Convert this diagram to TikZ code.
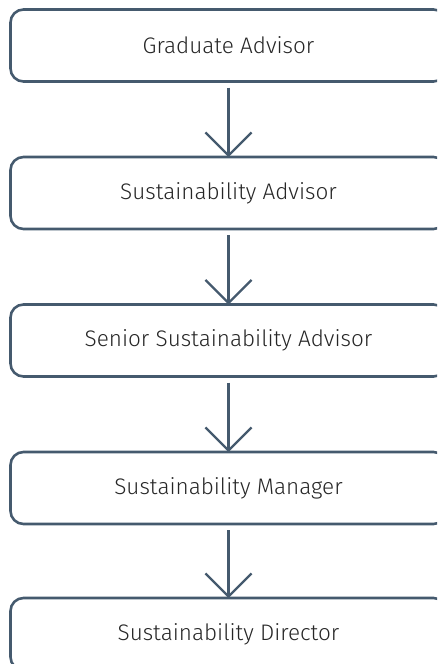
\documentclass[tikz,border=0pt]{standalone}
\usepackage{fontspec}
\setmainfont{Fira Sans}[UprightFont={* Light}]
\usetikzlibrary{arrows.meta}
\definecolor{edge}{HTML}{455A6E}
\definecolor{txt}{HTML}{262626}
\begin{document}
\begin{tikzpicture}[x=1pt,y=1pt,
  stage/.style={draw=edge, line width=2.6pt, rounded corners=13pt, minimum width=436pt,
    minimum height=72pt, inner sep=0pt, outer sep=0pt, text=txt,
    font=\fontsize{22.5}{25}\selectfont},
  flow/.style={draw=edge, line width=2.2pt, shorten <=6pt,
    -{Straight Barb[length=23pt,width=46pt,line width=2.2pt]}}]
\useasboundingbox (0,0) rectangle (437,-664);
\clip (0,0) rectangle (437,-664);
\node[stage] (b1) at (228.5,-45.5) {Graduate Advisor};
\node[stage] (b2) at (228.5,-193) {Sustainability Advisor};
\node[stage] (b3) at (228.5,-340.5) {Senior Sustainability Advisor};
\node[stage] (b4) at (228.5,-488) {Sustainability Manager};
\node[stage] (b5) at (228.5,-634) {Sustainability Director};
\draw[flow] (b1.south) -- (b2.north);
\draw[flow] (b2.south) -- (b3.north);
\draw[flow] (b3.south) -- (b4.north);
\draw[flow] (b4.south) -- (b5.north);
\end{tikzpicture}
\end{document}
